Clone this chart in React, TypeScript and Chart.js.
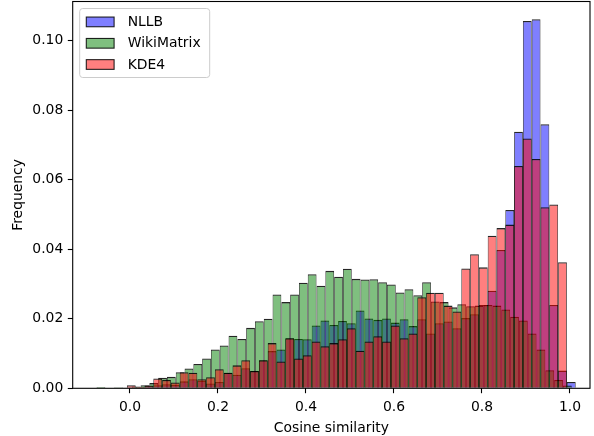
import React, { useEffect, useRef } from "react";
import { Chart, registerables } from "chart.js";

Chart.register(...registerables);

// ---- data -------------------------------------------------------------
const seriesLabels = ["NLLB", "WikiMatrix", "KDE4"];

// bin centres shared by NLLB and KDE4
const nkBinCenters = [
  -0.017, 0.003, 0.023, 0.043, 0.063, 0.083, 0.103, 0.123, 0.143, 0.163,
  0.183, 0.203, 0.223, 0.243, 0.263, 0.283, 0.303, 0.323, 0.343, 0.363,
  0.383, 0.403, 0.423, 0.443, 0.463, 0.483, 0.503, 0.523, 0.543, 0.563,
  0.583, 0.603, 0.623, 0.643, 0.663, 0.683, 0.703, 0.723, 0.743, 0.763,
  0.783, 0.803, 0.823, 0.843, 0.863, 0.883, 0.903, 0.923, 0.943, 0.963,
  0.983, 1.003,
];

const nllbFreq = [
  0, 0.0003, 0.0003, 0.0006, 0.0009, 0.0012, 0.001, 0.002, 0.0026, 0.0022,
  0.0014, 0.0018, 0.0045, 0.0039, 0.0058, 0.005, 0.0081, 0.0107, 0.0112, 0.0144,
  0.0142, 0.0141, 0.0181, 0.0195, 0.0182, 0.0194, 0.0187, 0.0224, 0.0201, 0.0197,
  0.0201, 0.0189, 0.0199, 0.0179, 0.0199, 0.0158, 0.0187, 0.0192, 0.0173, 0.0202,
  0.0213, 0.024, 0.0281, 0.0398, 0.0513, 0.0738, 0.1057, 0.1062, 0.076, 0.024,
  0.0051, 0.0018,
];

const kde4Freq = [
  0, 0.0009, 0.0004, 0.0008, 0.0028, 0.0024, 0.0017, 0.0046, 0.0045, 0.0026,
  0.0032, 0.0055, 0.0045, 0.0066, 0.0081, 0.005, 0.0081, 0.013, 0.0077, 0.0144,
  0.0086, 0.0095, 0.0135, 0.0121, 0.013, 0.0141, 0.0173, 0.0108, 0.0135, 0.015,
  0.0135, 0.0181, 0.0144, 0.0158, 0.0262, 0.0275, 0.0275, 0.0238, 0.0221, 0.0345,
  0.0386, 0.0348, 0.0439, 0.0461, 0.0471, 0.064, 0.0719, 0.066, 0.0521, 0.0529,
  0.0363, 0,
];

// bin centres of WikiMatrix
const wikiBinCenters = [
  -0.066, -0.046, -0.026, -0.006, 0.014, 0.034, 0.054, 0.074, 0.094, 0.114,
  0.134, 0.154, 0.174, 0.194, 0.214, 0.234, 0.254, 0.274, 0.294, 0.314,
  0.334, 0.354, 0.374, 0.394, 0.414, 0.434, 0.454, 0.474, 0.494, 0.514,
  0.534, 0.554, 0.574, 0.594, 0.614, 0.634, 0.654, 0.674, 0.694, 0.714,
  0.734, 0.754, 0.774, 0.794, 0.814, 0.834, 0.854, 0.874, 0.894, 0.914,
  0.934, 0.954, 0.974, 0.994,
];

const wikiFreq = [
  0.0004, 0, 0.0003, 0.0002, 0.0005, 0.0009, 0.0015, 0.003, 0.0033, 0.0046,
  0.0057, 0.007, 0.0086, 0.0112, 0.0123, 0.0151, 0.0142, 0.0174, 0.0193, 0.02,
  0.027, 0.0248, 0.027, 0.0304, 0.0328, 0.0295, 0.0338, 0.0321, 0.0344, 0.0315,
  0.0313, 0.0314, 0.0305, 0.0299, 0.0276, 0.0285, 0.0268, 0.0305, 0.025, 0.0248,
  0.0233, 0.0242, 0.0236, 0.0238, 0.024, 0.0238, 0.0227, 0.0206, 0.0195, 0.0158,
  0.0112, 0.0052, 0.0024, 0.0008,
];

const xTickValues = [0, 0.2, 0.4, 0.6, 0.8, 1.0];
const yTickValues = [0, 0.02, 0.04, 0.06, 0.08, 0.1];

const X_MIN = -0.1302;
const X_MAX = 1.0455;
const Y_MAX = 0.1113;

// ---- styles -----------------------------------------------------------
const FONT = "DejaVu Sans";
const FONT_SIZE = 13.9;
const FILL = ["rgba(0,0,255,0.5)", "rgba(0,128,0,0.5)", "rgba(255,0,0,0.5)"];
const EDGE = "rgba(0,0,0,0.85)";

function toPoints(xs: number[], ys: number[]) {
  return xs.map((x, i) => ({ x, y: ys[i] }));
}

const barStyle = {
  borderColor: EDGE,
  borderWidth: { top: 1.3, left: 0.75, right: 0.75, bottom: 0 },
  borderSkipped: false,
  barPercentage: 1,
  categoryPercentage: 1,
  grouped: false,
  inflateAmount: 0,
};

const frameAndLegend = {
  id: "frameAndLegend",
  afterDatasetsDraw(chart: any) {
    const { ctx, chartArea: a } = chart;
    ctx.save();
    // spines
    ctx.strokeStyle = "#000";
    ctx.lineWidth = 1.1;
    ctx.strokeRect(a.left, a.top, a.right - a.left, a.bottom - a.top);

    // legend box
    const lx = a.left + 7;
    const ly = a.top + 7;
    const lw = 130;
    const lh = 69;
    ctx.beginPath();
    ctx.roundRect(lx, ly, lw, lh, 3);
    ctx.fillStyle = "rgba(255,255,255,0.8)";
    ctx.fill();
    ctx.strokeStyle = "#cccccc";
    ctx.lineWidth = 1;
    ctx.stroke();

    const ds = chart.data.datasets;
    const rows = [13.4, 34.8, 56.0];
    ctx.font = `${FONT_SIZE}px "${FONT}"`;
    ctx.textBaseline = "middle";
    ctx.textAlign = "left";
    for (let i = 0; i < ds.length; i++) {
      const cy = ly + rows[i];
      const px = lx + 6.6;
      ctx.fillStyle = ds[i].backgroundColor;
      ctx.fillRect(px, cy - 4.85, 27.8, 9.7);
      ctx.strokeStyle = EDGE;
      ctx.lineWidth = 1.1;
      ctx.strokeRect(px, cy - 4.85, 27.8, 9.7);
      ctx.fillStyle = "#000";
      ctx.fillText(ds[i].label, lx + 48, cy + 0.5);
    }
    ctx.restore();
  },
};

export default function App() {
  const canvasRef = useRef<HTMLCanvasElement | null>(null);

  useEffect(() => {
    document.body.style.margin = "0";
    const canvas = canvasRef.current;
    if (!canvas) return;

    const hiddenX = () => ({
      type: "linear",
      display: false,
      position: "bottom",
      min: X_MIN,
      max: X_MAX,
      bounds: "data",
      offset: false,
      grid: { offset: false },
      afterBuildTicks: (s: any) => {
        s.ticks = [];
      },
    });

    const chart = new Chart(canvas, {
      type: "bar",
      data: {
        datasets: [
          {
            label: seriesLabels[0],
            data: toPoints(nkBinCenters, nllbFreq),
            xAxisID: "x",
            backgroundColor: FILL[0],
            order: 3,
            ...barStyle,
          },
          {
            label: seriesLabels[1],
            data: toPoints(wikiBinCenters, wikiFreq),
            xAxisID: "xW",
            backgroundColor: FILL[1],
            order: 2,
            ...barStyle,
          },
          {
            label: seriesLabels[2],
            data: toPoints(nkBinCenters, kde4Freq),
            xAxisID: "xK",
            backgroundColor: FILL[2],
            order: 1,
            ...barStyle,
          },
        ],
      } as any,
      options: {
        animation: false,
        responsive: false,
        devicePixelRatio: 1,
        layout: { padding: { top: 1.5, right: 4, left: 0, bottom: 0 } },
        plugins: {
          legend: { display: false },
          tooltip: { enabled: false },
        },
        scales: {
          x: {
            type: "linear",
            position: "bottom",
            min: X_MIN,
            max: X_MAX,
            bounds: "data",
            offset: false,
            afterBuildTicks: (s: any) => {
              s.ticks = xTickValues.map((v) => ({ value: v }));
            },
            afterFit: (s: any) => {
              s.height = 436 - 388.3;
              s.paddingLeft = 0;
              s.paddingRight = 0;
            },
            ticks: {
              autoSkip: false,
              maxRotation: 0,
              padding: 5.4,
              color: "#000",
              font: { family: FONT, size: FONT_SIZE },
              callback: (v: any) => Number(v).toFixed(1),
            },
            grid: {
              display: true,
              offset: false,
              drawOnChartArea: false,
              drawTicks: true,
              tickLength: 4.9,
              tickWidth: 1.1,
              tickColor: "#000",
            },
            border: { display: false },
            title: {
              display: true,
              text: "Cosine similarity",
              color: "#000",
              font: { family: FONT, size: FONT_SIZE, lineHeight: 1 },
              padding: { top: 0, bottom: 1 },
            },
          },
          xW: hiddenX(),
          xK: hiddenX(),
          y: {
            type: "linear",
            position: "left",
            min: 0,
            max: Y_MAX,
            bounds: "data",
            afterBuildTicks: (s: any) => {
              s.ticks = yTickValues.map((v) => ({ value: v }));
            },
            afterFit: (s: any) => {
              s.width = 72.7;
              s.paddingTop = 0;
              s.paddingBottom = 0;
            },
            ticks: {
              padding: 4.5,
              color: "#000",
              font: { family: FONT, size: FONT_SIZE },
              callback: (v: any) => Number(v).toFixed(2),
            },
            grid: {
              display: true,
              drawOnChartArea: false,
              drawTicks: true,
              tickLength: 4.9,
              tickWidth: 1.1,
              tickColor: "#000",
            },
            border: { display: false },
            title: {
              display: true,
              text: "Frequency",
              color: "#000",
              font: { family: FONT, size: FONT_SIZE, lineHeight: 1 },
              padding: { top: 11.7, bottom: 0 },
            },
          },
        },
      } as any,
      plugins: [frameAndLegend],
    });

    return () => {
      chart.destroy();
    };
  }, []);

  return (
    <div style={{ width: 594, height: 436 }}>
      <canvas ref={canvasRef} width={594} height={436} style={{ display: "block" }} />
    </div>
  );
}
